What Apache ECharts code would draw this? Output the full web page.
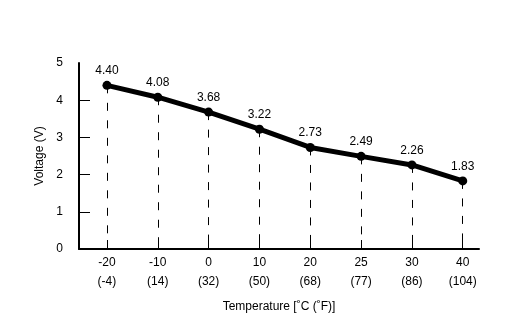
<!DOCTYPE html>
<html><head><meta charset="utf-8">
<script src="https://cdn.jsdelivr.net/npm/echarts@6/dist/echarts.min.js"></script>
<style>html,body{margin:0;padding:0;background:#fff}#c{width:532px;height:331px}</style>
</head><body><div id="c"></div>
<script>
var tempC = ['-20', '-10', '0', '10', '20', '25', '30', '40'];
var tempF = ['(-4)', '(14)', '(32)', '(50)', '(68)', '(77)', '(86)', '(104)'];
var voltage = [4.40, 4.08, 3.68, 3.22, 2.73, 2.49, 2.26, 1.83];
var yTicks = [0, 1, 2, 3, 4, 5];

var idx = tempC.map(function (_, i) { return i; });
var pts = voltage.map(function (v, i) { return [i, v]; });
var drops = voltage.map(function (v, i) { return [{ coord: [i, v] }, { coord: [i, 0] }]; });
var font = 'Liberation Sans, Arial, sans-serif';

var chart = echarts.init(document.getElementById('c'), null, { renderer: 'canvas' });
chart.setOption({
  animation: false,
  backgroundColor: '#fff',
  grid: { left: 79, right: 53, top: 63, bottom: 82 },
  xAxis: {
    type: 'value', min: -0.55, max: 7.32,
    name: 'Temperature [˚C (˚F)]', nameLocation: 'middle', nameGap: 52,
    nameTextStyle: { fontFamily: font, fontSize: 12, color: '#000' },
    axisLine: { show: true, onZero: false, lineStyle: { color: '#000', width: 2 } },
    axisTick: { show: true, inside: true, length: 9, customValues: idx, lineStyle: { color: '#000', width: 1 } },
    axisLabel: {
      customValues: idx, margin: 4, fontFamily: font, fontSize: 12, color: '#000', lineHeight: 19,
      formatter: function (v) { var i = Math.round(v); return tempC[i] + '\n' + tempF[i]; }
    },
    splitLine: { show: false }
  },
  yAxis: {
    type: 'value', min: 0, max: 5, interval: 1,
    name: 'Voltage (V)', nameLocation: 'middle', nameGap: 32, nameRotate: 90,
    nameTextStyle: { fontFamily: font, fontSize: 12, color: '#000' },
    axisLine: { show: true, onZero: false, lineStyle: { color: '#000', width: 2 } },
    axisTick: { show: true, inside: true, length: 11, customValues: [1, 2, 3, 4], lineStyle: { color: '#000', width: 1 } },
    axisLabel: { customValues: yTicks, margin: 16, fontFamily: font, fontSize: 12, color: '#000' },
    splitLine: { show: false }
  },
  series: [{
    type: 'line', data: pts,
    symbol: 'circle', symbolSize: 9,
    lineStyle: { color: '#000', width: 5 },
    itemStyle: { color: '#000' },
    label: { show: true, position: 'top', distance: 4, fontFamily: font, fontSize: 12, color: '#000',
      formatter: function (p) { return p.value[1].toFixed(2); } },
    markLine: {
      silent: true, symbol: ['none', 'none'], label: { show: false },
      lineStyle: { color: '#000', width: 1, type: [8, 9.5] },
      data: drops, z: 1
    },
    z: 3
  }]
});
</script></body></html>
